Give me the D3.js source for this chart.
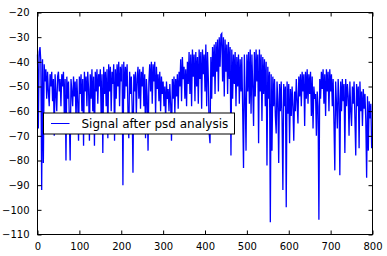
<!DOCTYPE html>
<html>
<head>
<meta charset="utf-8">
<script src="https://cdn.jsdelivr.net/npm/d3@7"></script>
<style>
  body { margin: 0; background: #fff; }
  svg { display: block; font-family: "DejaVu Sans", sans-serif; }
</style>
</head>
<body>
<svg id="chart" width="387" height="256"></svg>
<script>
// signal values, one every 2 samples (x = 0, 2, 4 ...)
const xStep = 2;
const signal = [
  -37, -67, -36, -34, -40, -92, -39, -81, -41, -48, -43, -55, -44, -52, -58, -45, -50, -44, -56, -47, -70, -45, -53, -60, -46,
  -44, -52, -47, -58, -45, -50, -44, -62, -47, -80, -46, -55, -48, -63, -80, -47, -52, -58, -46, -54, -48, -64, -47, -56, -72,
  -46, -53, -45, -60, -47, -74, -44, -52, -46, -58, -44, -51, -72, -45, -55, -43, -60, -46, -74, -44, -52, -43, -57, -45, -50,
  -43, -62, -45, -77, -42, -53, -44, -58, -43, -71, -41, -52, -42, -60, -44, -49, -41, -72, -43, -55, -41, -50, -40, -58, -42,
  -48, -41, -90, -40, -55, -42, -50, -41, -60, -71, -44, -53, -46, -58, -85, -45, -52, -44, -62, -47, -42, -55, -43, -59, -44,
  -50, -42, -58, -45, -71, -47, -54, -76, -48, -41, -52, -40, -57, -41, -48, -40, -62, -42, -51, -45, -56, -44, -60, -46, -53,
  -48, -58, -50, -64, -48, -55, -51, -60, -49, -57, -72, -47, -55, -46, -61, -47, -54, -45, -59, -44, -50, -39, -56, -38, -47,
  -42, -55, -43, -58, -40, -49, -36, -53, -37, -58, -35, -46, -37, -56, -36, -50, -38, -57, -35, -47, -36, -59, -35, -45, -37,
  -52, -33, -58, -36, -47, -69, -73, -38, -55, -34, -46, -33, -53, -32, -44, -31, -52, -30, -42, -29, -28.5, -48, -30, -54, -31,
  -44, -33, -53, -32, -47, -34, -78, -35, -55, -37, -49, -36, -58, -38, -50, -37, -57, -39, -52, -38, -60, -83, -37, -55, -76,
  -37, -52, -36, -57, -35, -61, -37, -50, -66, -36, -54, -35, -48, -37, -73, -35, -52, -37, -64, -38, -53, -39, -58, -40, -82,
  -42, -55, -44, -105, -45, -76, -46, -58, -47, -62, -69, -48, -56, -81, -49, -60, -48, -63, -92, -49, -58, -50, -99, -48, -61,
  -49, -73, -51, -62, -50, -58, -72, -52, -60, -47, -56, -65, -46, -54, -45, -58, -44, -52, -45, -66, -44, -55, -43, -57, -45,
  -53, -44, -62, -46, -67, -50, -55, -53, -70, -52, -58, -104, -47, -55, -44, -51, -43, -57, -45, -62, -43, -52, -44, -60, -43,
  -52, -45, -58, -47, -65, -84, -48, -57, -67, -47, -55, -86, -48, -60, -47, -56, -49, -77, -47, -58, -49, -54, -70, -48, -60,
  -66, -50, -57, -48, -63, -78, -49, -58, -50, -75, -48, -60, -52, -66, -51, -59, -53, -64, -87, -54, -76, -56, -63, -57, -75
];
const legendLabel = 'Signal after psd analysis';
const xTicks = [0, 100, 200, 300, 400, 500, 600, 700, 800];
const yTicks = [-110, -100, -90, -80, -70, -60, -50, -40, -30, -20];

const svg = d3.select('#chart');
const margin = {left: 37.5, right: 14.5, top: 12.5, bottom: 21.5};
const width = 387 - margin.left - margin.right,
  height = 256 - margin.top - margin.bottom;

const x = d3.scaleLinear().domain([0, 800]).range([0, width]);
const y = d3.scaleLinear().domain([-110, -20]).range([height, 0]);

const g = svg.append('g').attr('transform', `translate(${margin.left},${margin.top})`);

const line = d3.line()
  .x((d, i) => x(i * xStep))
  .y(d => y(d));

g.append('path')
  .datum(signal)
  .attr('fill', 'none')
  .attr('stroke', '#0000ff')
  .attr('stroke-width', 1.3)
  .attr('stroke-linejoin', 'miter')
  .attr('d', line);

// axes, matplotlib classic look: ticks pointing in, on all four sides
const fmt = d => d < 0 ? '\u2212' + Math.abs(d) : String(d);

function styleAxis(sel) {
  sel.select('.domain').remove();
  sel.selectAll('.tick line').attr('stroke', '#000');
  sel.selectAll('.tick text').attr('fill', '#000').attr('font-size', 10).attr('font-family', '"DejaVu Sans", sans-serif');
}

g.append('g')
  .attr('transform', `translate(0,${height})`)
  .call(d3.axisBottom(x).tickValues(xTicks).tickFormat(fmt).tickSizeInner(-4).tickSizeOuter(0).tickPadding(8))
  .call(styleAxis);
g.append('g')
  .call(d3.axisTop(x).tickValues(xTicks).tickFormat('').tickSizeInner(-4).tickSizeOuter(0))
  .call(styleAxis);
g.append('g')
  .call(d3.axisLeft(y).tickValues(yTicks).tickFormat(fmt).tickSizeInner(-4).tickSizeOuter(0).tickPadding(8))
  .call(styleAxis);
g.append('g')
  .attr('transform', `translate(${width},0)`)
  .call(d3.axisRight(y).tickValues(yTicks).tickFormat('').tickSizeInner(-4).tickSizeOuter(0))
  .call(styleAxis);

g.append('rect')
  .attr('width', width).attr('height', height)
  .attr('fill', 'none').attr('stroke', '#000').attr('stroke-width', 1);

// legend, center left
const lg = g.append('g').attr('transform', `translate(6,${height / 2 - 10.5})`);
lg.append('rect')
  .attr('width', 191).attr('height', 21)
  .attr('fill', '#fff').attr('stroke', '#000').attr('stroke-width', 1);
lg.append('line')
  .attr('x1', 7.5).attr('x2', 26).attr('y1', 10.5).attr('y2', 10.5)
  .attr('stroke', '#0000ff').attr('stroke-width', 1);
lg.append('text')
  .attr('x', 38).attr('y', 15)
  .attr('font-size', 12)
  .attr('fill', '#000')
  .text(legendLabel);
</script>
</body>
</html>
